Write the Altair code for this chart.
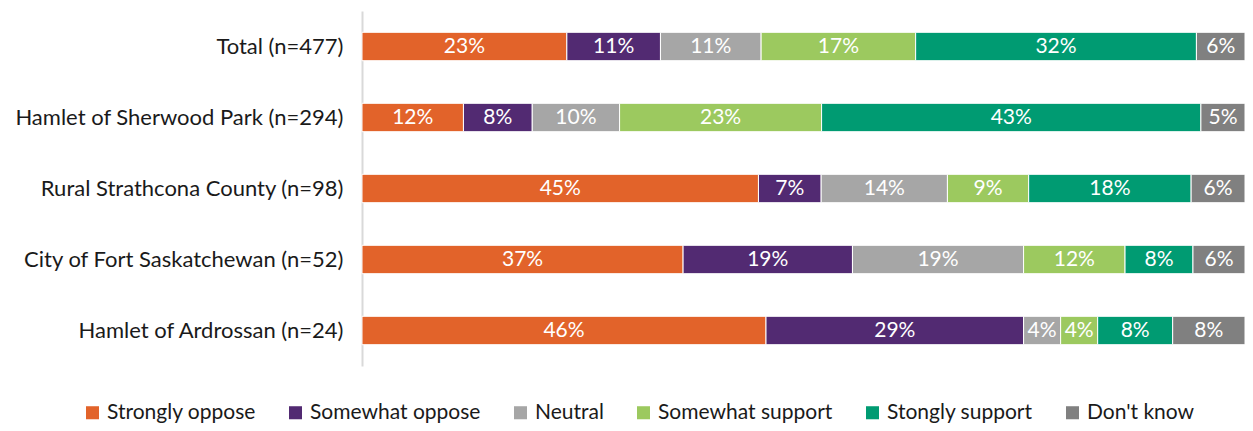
import altair as alt
import pandas as pd

categories = ["Total (n=477)", "Hamlet of Sherwood Park (n=294)", "Rural Strathcona County (n=98)",
              "City of Fort Saskatchewan (n=52)", "Hamlet of Ardrossan (n=24)"]
responses = ["Strongly oppose", "Somewhat oppose", "Neutral", "Somewhat support",
             "Stongly support", "Don't know"]
colors = ["#E2632A", "#522A72", "#A6A6A6", "#9CC95F", "#009B72", "#808080"]

values = {
    "Total (n=477)": [23.2, 10.6, 11.4, 17.5, 31.8, 5.5],
    "Hamlet of Sherwood Park (n=294)": [11.5, 7.8, 9.9, 22.9, 43.0, 5.0],
    "Rural Strathcona County (n=98)": [44.9, 7.1, 14.3, 9.2, 18.4, 6.1],
    "City of Fort Saskatchewan (n=52)": [36.4, 19.2, 19.4, 11.5, 7.7, 5.9],
    "Hamlet of Ardrossan (n=24)": [45.8, 29.2, 4.2, 4.2, 8.5, 8.2],
}
labels = {
    "Total (n=477)": [23, 11, 11, 17, 32, 6],
    "Hamlet of Sherwood Park (n=294)": [12, 8, 10, 23, 43, 5],
    "Rural Strathcona County (n=98)": [45, 7, 14, 9, 18, 6],
    "City of Fort Saskatchewan (n=52)": [37, 19, 19, 12, 8, 6],
    "Hamlet of Ardrossan (n=24)": [46, 29, 4, 4, 8, 8],
}

rows = []
for c in categories:
    for i, r in enumerate(responses):
        rows.append({"cat": c, "resp": r, "order": i, "value": values[c][i],
                     "label": f"{labels[c][i]}%"})
df = pd.DataFrame(rows)

FONT = "Lato"

base = alt.Chart(df).transform_stack(
    stack="value", groupby=["cat"], as_=["x0", "x1"], offset="normalize",
    sort=[alt.SortField("order", order="ascending")]
).transform_calculate(mid="(datum.x0 + datum.x1) / 2")

y = alt.Y("cat:N", sort=categories, title=None,
          scale=alt.Scale(paddingInner=0.6, paddingOuter=0.3),
          axis=alt.Axis(labelFontSize=22, labelColor="#1a1a1a", labelFont=FONT,
                        ticks=False, domainColor="#D9D9D9", domainWidth=2,
                        labelPadding=19, labelLimit=400))

bars = base.mark_bar(stroke="white", strokeWidth=1).encode(
    x=alt.X("x0:Q", axis=None, scale=alt.Scale(domain=[0, 1], nice=False)),
    x2="x1:Q",
    y=y,
    color=alt.Color("resp:N", sort=responses,
                    scale=alt.Scale(domain=responses, range=colors),
                    legend=alt.Legend(title=None, orient="none", direction="horizontal",
                                      columns=6, legendX=-280, legendY=391,
                                      symbolType="square", symbolSize=170,
                                      symbolStrokeWidth=0, labelFontSize=21,
                                      labelFont=FONT, labelColor="#1a1a1a",
                                      columnPadding=29, labelOffset=4, labelLimit=300)),
    order=alt.Order("order:Q"),
)

text = base.mark_text(color="white", fontSize=21, font=FONT, baseline="middle").encode(
    x=alt.X("mid:Q", scale=alt.Scale(domain=[0, 1], nice=False)),
    y=alt.Y("cat:N", sort=categories),
    text="label:N",
)

chart = alt.layer(bars, text).properties(
    width=883, height=355,
    autosize=alt.AutoSizeParams(type="none"),
    padding={"left": 354, "top": 3, "right": 0, "bottom": 57},
).configure_view(stroke=None)

chart.save("out.html", embed_options={"renderer": "svg", "actions": False})
